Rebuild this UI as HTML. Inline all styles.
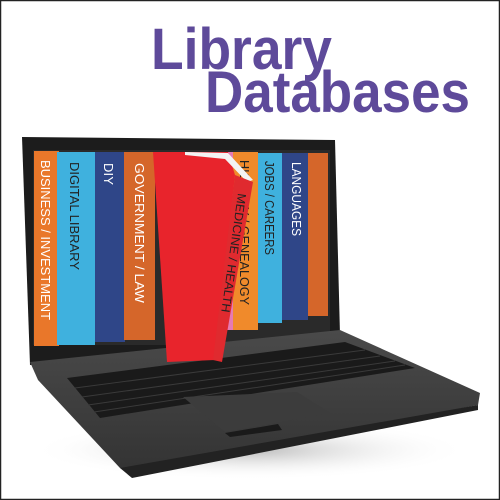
<!DOCTYPE html>
<html><head><style>
html,body{margin:0;padding:0;background:#fff}
svg{display:block}
</style></head><body>
<svg width="500" height="500" viewBox="0 0 500 500" xmlns="http://www.w3.org/2000/svg">
<defs>
<linearGradient id="base" x1="0" y1="0" x2="0" y2="1">
<stop offset="0" stop-color="#4a4a4a"/><stop offset="1" stop-color="#333"/>
</linearGradient>
<radialGradient id="sh" cx="0.5" cy="0.5" r="0.5">
<stop offset="0" stop-color="#bbb"/><stop offset="1" stop-color="#fff" stop-opacity="0"/>
</radialGradient>
</defs>
<rect x="0" y="0" width="500" height="500" fill="#fff"/>
<g font-family="'Liberation Sans',sans-serif" font-weight="bold" fill="#5e4a9a">
<text x="151" y="69" font-size="58" textLength="181" lengthAdjust="spacingAndGlyphs">Library</text>
<text x="205" y="112" font-size="58" textLength="265" lengthAdjust="spacingAndGlyphs">Databases</text>
</g>
<ellipse cx="250" cy="450" rx="220" ry="30" fill="url(#sh)"/>
<polygon points="22,137 335,140 340,335 30,365" fill="#1c1c1c"/>
<rect x="33" y="150" width="297" height="195" fill="#2a2a2a"/>
<rect x="34" y="151" width="25" height="195" fill="#e9772a"/>
<rect x="57" y="152" width="38" height="193" fill="#3fb1de"/>
<rect x="95" y="152" width="30" height="190" fill="#2f4688"/>
<rect x="124" y="152" width="31" height="188" fill="#d5662a"/>
<rect x="216" y="152" width="18" height="178" fill="#e67ab3"/>
<rect x="233" y="152" width="25" height="178" fill="#f08a2b"/>
<rect x="258" y="153" width="24" height="170" fill="#3fb1de"/>
<rect x="282" y="153" width="26" height="167" fill="#2f4688"/>
<rect x="308" y="153" width="20" height="163" fill="#d5662a"/>
<g font-family="'Liberation Sans',sans-serif" fill="#fff" font-size="13">
<text transform="translate(41,160) rotate(90)" textLength="160" lengthAdjust="spacingAndGlyphs">BUSINESS / INVESTMENT</text>
<text transform="translate(70,162) rotate(90)" fill="#222" textLength="108" lengthAdjust="spacingAndGlyphs">DIGITAL LIBRARY</text>
<text transform="translate(104,163) rotate(90)" textLength="22">DIY</text>
<text transform="translate(135,163) rotate(90)" textLength="140" lengthAdjust="spacingAndGlyphs">GOVERNMENT / LAW</text>
<text transform="translate(240,160) rotate(90)" fill="#222" textLength="145" lengthAdjust="spacingAndGlyphs">HISTORY / GENEALOGY</text>
<text transform="translate(265,161) rotate(90)" fill="#222" textLength="94" lengthAdjust="spacingAndGlyphs">JOBS / CAREERS</text>
<text transform="translate(292,162) rotate(90)" textLength="74" lengthAdjust="spacingAndGlyphs">LANGUAGES</text>
</g>
<polygon points="30,362 340,330 480,393 478,405 130,473 120,468 38,380" fill="url(#base)"/>
<polygon points="120,468 478,405 478,410 132,478" fill="#222"/>
<polygon points="67,378 345,342 415,368 100,418" fill="#1a1a1a"/>
<g stroke="#3a3a3a" stroke-width="1">
<line x1="75" y1="388" x2="365" y2="350"/>
<line x1="82" y1="397" x2="380" y2="356"/>
<line x1="88" y1="405" x2="395" y2="361"/>
<line x1="94" y1="412" x2="405" y2="365"/>
</g>
<polygon points="183,397 297,392 330,413 225,432" fill="#3c3c3c"/>
<polygon points="225,433 278,424 282,430 230,437" fill="#1a1a1a"/>
<!-- red book -->
<polygon points="153,152 228,152 235,175 215,360 167,362" fill="#e8242c"/>
<polygon points="185,152 228,153 253,180 247,182 225,159 185,155" fill="#f3f3f3"/>
<polygon points="235,175 253,182 222,362 213,360" fill="#e02a2f"/>
<text transform="translate(238,193) rotate(98)" font-family="'Liberation Sans',sans-serif" font-size="12" fill="#222" textLength="120" lengthAdjust="spacingAndGlyphs">MEDICINE / HEALTH</text>
<rect x="0.5" y="0.5" width="499" height="499" fill="none" stroke="#222" stroke-width="1.5"/>
</svg>
</body></html>
